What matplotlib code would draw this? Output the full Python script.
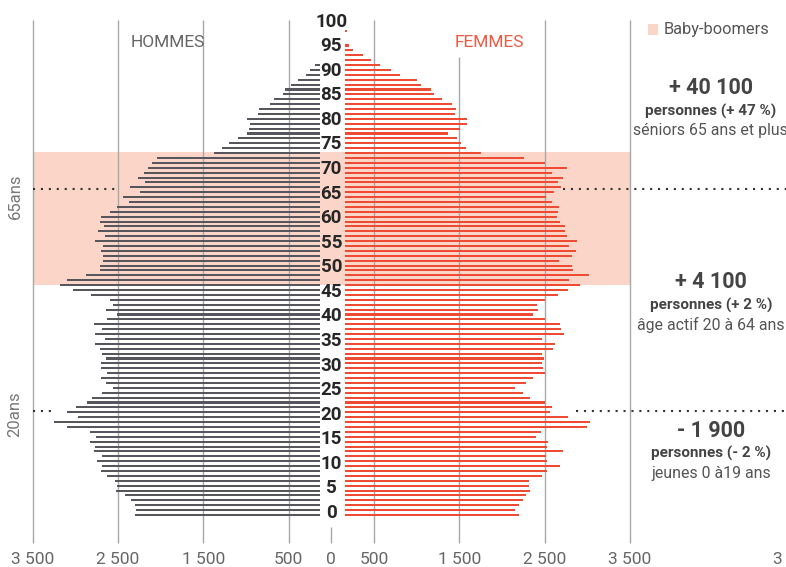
import numpy as np
import matplotlib
import matplotlib.pyplot as plt

matplotlib.use('Agg')

plt.rcParams['font.family'] = ['Roboto', 'DejaVu Sans']

# Données : âges 0 à 100
ages = np.arange(0, 101)

hommes = [
    2300, 2290, 2300, 2350, 2420, 2520, 2510, 2540, 2630, 2700,
    2690, 2750, 2690, 2780, 2770, 2830, 2760, 2830, 3100, 3250,
    2970, 3100, 2990, 2860, 2810, 2690, 2560, 2640, 2700, 2630,
    2700, 2700, 2640, 2690, 2710, 2770, 2650, 2770, 2690, 2780,
    2630, 2510, 2640, 2560, 2590, 2820, 3030, 3180, 3100, 2880,
    2710, 2710, 2680, 2680, 2700, 2680, 2770, 2650, 2730, 2660,
    2710, 2700, 2590, 2510, 2370, 2440, 2240, 2360, 2180, 2270,
    2200, 2150, 2100, 2040, 1380, 1280, 1200, 1090, 990, 970,
    950, 990, 860, 850, 720, 670, 570, 540, 470, 390,
    300, 250, 190, 120, 90, 60, 40, 25, 15, 10,
    5,
]

femmes = [
    2200, 2150, 2200, 2250, 2280, 2330, 2320, 2320, 2470, 2530,
    2680, 2530, 2520, 2720, 2530, 2540, 2400, 2460, 3000, 3030,
    2770, 2560, 2590, 2500, 2330, 2250, 2150, 2280, 2360, 2500,
    2480, 2470, 2490, 2470, 2600, 2620, 2470, 2730, 2690, 2680,
    2500, 2360, 2420, 2410, 2500, 2660, 2770, 2920, 2790, 3020,
    2830, 2820, 2670, 2820, 2870, 2790, 2880, 2760, 2740, 2740,
    2680, 2650, 2660, 2670, 2590, 2520, 2610, 2690, 2660, 2720,
    2590, 2760, 2500, 2260, 1760, 1580, 1520, 1470, 1370, 1510,
    1590, 1590, 1450, 1460, 1420, 1300, 1200, 1170, 1050, 1000,
    800, 700, 570, 460, 370, 250, 210, 150, 120, 190,
    0,
]

grid_vals = [-3500, -2500, -1500, -500, 500, 1500, 2500, 3500]
tick_vals = [-3500, -2500, -1500, -500, 0, 500, 1500, 2500, 3500]
tick_labels = ['3 500', '2 500', '1 500', '500', '0', '500', '1 500', '2 500', '3 500']

boomers = (47, 74.25)

blocs = [
    ('+ 40 100', 'personnes (+ 47 %)', 'séniors 65 ans et plus'),
    ('+ 4 100', 'personnes (+ 2 %)', 'âge actif 20 à 64 ans'),
    ('- 1 900', 'personnes (- 2 %)', 'jeunes 0 à19 ans'),
]
blocs_y = [87.3, 47.6, 17.2]

COL_H = '#57565d'
COL_F = '#ee4b34'
COL_SHADE = '#fbd6c8'
COL_GRID = '#a8a8a8'

gap_h = 132
gap_f = 160

fig = plt.figure(figsize=(7.86, 5.67), dpi=100)
ax = fig.add_axes([0, 0, 1, 1])
ax.set_xlim(-3884, 5331)
ax.set_ylim(-10.63, 105.3)
ax.axis('off')

# zone baby-boomers
ax.fill_betweenx(boomers, -3500, 3500, color=COL_SHADE, lw=0, zorder=0)

# lignes verticales
for v in grid_vals:
    top = 93.7 if v == 1500 else 101.2
    ax.vlines(v, -5.7, top, color=COL_GRID, lw=1.0, zorder=1)
ax.vlines(0, -5.7, -2.45, color=COL_GRID, lw=1.0, zorder=1)

# barres
h = np.array(hommes, dtype=float)
f = np.array(femmes, dtype=float)
ax.barh(ages, -np.clip(h - gap_h, 0, None), left=-gap_h, height=0.42,
        color=COL_H, lw=0, zorder=2)
ax.barh(ages, np.clip(f - gap_f, 0, None), left=gap_f, height=0.42,
        color=COL_F, lw=0, zorder=2)

# étiquettes d'âge
for a in range(0, 101, 5):
    ax.text(0, a * 1.005 + 0.4, str(a), ha='center', va='center',
            fontsize=13.5, fontweight='bold', color='#262626', zorder=3)

# lignes pointillées 65 ans et 20 ans
dots = dict(color='#333333', lw=1.5, linestyle=(0, (1, 2.8)), zorder=3)
ax.plot([-3496, -2476], [66.67, 66.67], **dots)
ax.plot([2719, 5331], [66.67, 66.67], **dots)
ax.plot([-3496, -3286], [21.27, 21.27], **dots)
ax.plot([2868, 5331], [21.27, 21.27], **dots)

ax.text(-3707, 65.2, '65ans', rotation=90, ha='center', va='center',
        fontsize=12, color='#777777')
ax.text(-3707, 20.65, '20ans', rotation=90, ha='center', va='center',
        fontsize=12, color='#777777')

# titres
ax.text(-1914, 96.7, 'HOMMES', ha='center', va='center', fontsize=12.5, color='#666666')
ax.text(1858, 96.7, 'FEMMES', ha='center', va='center', fontsize=12.5, color='#ef5a44')

# légende
ax.fill_between([3711, 3828], 98.2, 100.4, color=COL_SHADE, lw=0)
ax.text(3898, 99.2, 'Baby-boomers', ha='left', va='center', fontsize=11.8, color='#555555')

# graduations
for v, lab in zip(tick_vals, tick_labels):
    ax.text(v, -9.1, lab, ha='center', va='center', fontsize=12.5, color='#666666')
ax.text(5177, -9.1, '3 500', ha='left', va='center', fontsize=12.5, color='#666666')

# blocs de texte à droite
for (big, mid, small), y in zip(blocs, blocs_y):
    ax.text(4450, y, big, ha='center', va='center', fontsize=15.5,
            fontweight='bold', color='#444444')
    ax.text(4450, y - 4.7, mid, ha='center', va='center', fontsize=11,
            fontweight='bold', color='#444444')
    ax.text(4450, y - 8.7, small, ha='center', va='center', fontsize=11.4,
            color='#555555')

fig.savefig('out.png', dpi=100)
plt.close(fig)
